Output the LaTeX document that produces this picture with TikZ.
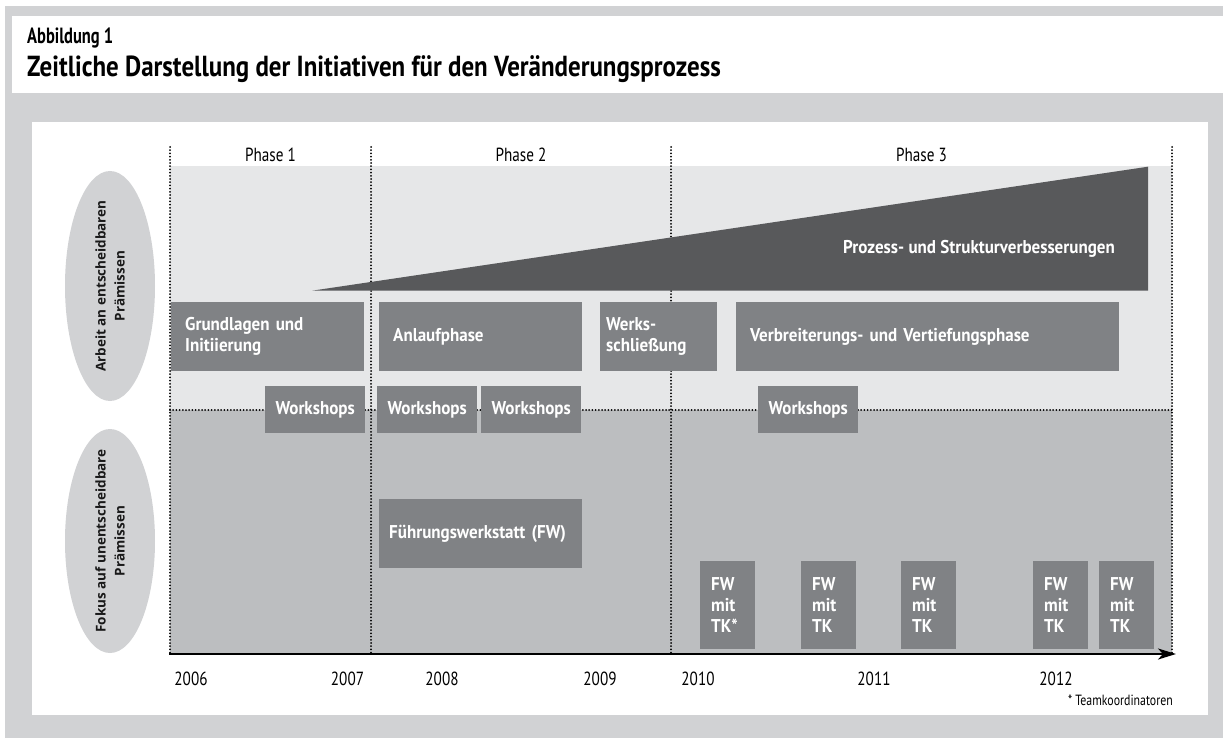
\documentclass[tikz,border=0pt]{standalone}
\usepackage{fontspec}
\setmainfont{PT Sans}[FakeStretch=0.8]
\newfontfamily\titlefont{PT Sans}[FakeStretch=0.86]
\newfontfamily\kopffont{PT Sans}[FakeStretch=0.75]
\newfontfamily\boxfont{PT Sans}[FakeStretch=0.92]
\newfontfamily\ellfont{Open Sans}
\usetikzlibrary{shapes.geometric,arrows.meta}
\definecolor{rahmengrau}{HTML}{D1D2D4}
\definecolor{hellband}{HTML}{E6E7E8}
\definecolor{dunkelband}{HTML}{BCBEC0}
\definecolor{boxgrau}{HTML}{808285}
\definecolor{keilgrau}{HTML}{58595B}
\tikzset{
  phasebox/.style={fill=boxgrau, text=white, anchor=north west, inner xsep=14pt, inner ysep=0pt,
    align=left, minimum height=69pt, font=\boxfont\bfseries\fontsize{18.5}{21}\selectfont},
  wsbox/.style={fill=boxgrau, text=white, anchor=north west, inner sep=0pt,
    minimum width=100pt, minimum height=47pt, font=\boxfont\bfseries\fontsize{18.5}{21}\selectfont},
  tkbox/.style={fill=boxgrau, text=white, anchor=north west, inner xsep=11pt, inner ysep=0pt,
    text width=33pt, align=left, minimum height=88pt, font=\boxfont\bfseries\fontsize{18.5}{21.3}\selectfont},
  premisse/.style={ellipse, fill=rahmengrau, inner sep=0pt, minimum width=90pt, minimum height=230pt},
  premissentext/.style={rotate=90, inner sep=0pt, align=center, text=black!90,
    font=\ellfont\bfseries\fontsize{13.5}{19}\selectfont},
  phaseline/.style={line width=2pt, line cap=round, dash pattern=on 0pt off 3.2pt},
  jahr/.style={font=\fontsize{19}{22}\selectfont},
}
\begin{document}
\begin{tikzpicture}[x=1pt, y=-1pt, >={Stealth[length=18pt,width=11pt,inset=5pt]}]
            \useasboundingbox (0,0) rectangle (1223,738);
            % Rahmen
            \fill[rahmengrau] (5,6) rectangle (1223,738);
            \fill[white] (12,16) rectangle (1223,93);
            \fill[white] (32,122) rectangle (1208,715);
            \node[anchor=base west, inner sep=0pt, font=\kopffont\bfseries\fontsize{22}{24}\selectfont] (abb) at (27,44) {Abbildung 1};
            \node[anchor=base west, inner sep=0pt, font=\titlefont\bfseries\fontsize{29}{32}\selectfont] (titel) at (27,77) {Zeitliche Darstellung der Initiativen für den Veränderungsprozess};
            % Baender
            \fill[hellband] (170,166) rectangle (1172,410);
            \fill[dunkelband] (170,410) rectangle (1172,654);
            \draw[phaseline] (170,410) -- (1172,410);
            \foreach \x in {170,371,671,1172} \draw[phaseline] (\x,147) -- (\x,654);
            \foreach \x/\n in {270.5/1,521/2,921.5/3} \node[jahr] (phase\n) at (\x,155) {Phase \n};
            % Keil
            \fill[keilgrau] (312,290.7) -- (1148,166.7) -- (1148,290.7) -- cycle;
            \node[anchor=east, text=white, inner sep=0pt, font=\boxfont\bfseries\fontsize{18.5}{21}\selectfont] (prozess) at (1115,249) {Prozess- und Strukturverbesserungen};
            % Phasen
            \node[phasebox, text width=165pt] (grund) at (171,302) {Grundlagen und\\Initiierung};
            \node[phasebox, text width=175pt] (anlauf) at (379,302) {Anlaufphase};
            \node[phasebox, text width=105pt, inner xsep=6pt] (werks) at (600,302) {Werks-\\schließung};
            \node[phasebox, text width=355pt] (verbr) at (736,302) {Verbreiterungs- und Vertiefungsphase};
            \foreach \x/\n in {265/1,377/2,481/3,758/4} \node[wsbox] (ws\n) at (\x,386) {Workshops};
            \node[phasebox, text width=183pt, inner xsep=10pt] (fw) at (379,499) {Führungswerkstatt (FW)};
            \node[tkbox] (tk1) at (700,561) {FW\\mit\\TK*};
            \foreach \x/\n in {801/2,901/3,1033/4,1099/5} \node[tkbox] (tk\n) at (\x,561) {FW\\mit\\TK};
            % Zeitachse
            \coordinate (achse0) at (169,654);
            \coordinate (achse1) at (1176,654);
            \draw[->, line width=2.2pt] (achse0) -- (achse1);
            \foreach \x/\j in {191/2006,347.5/2007,442/2008,600/2009,698/2010,874/2011,1056/2012} \node[jahr] (j\j) at (\x,679) {\j};
            \node[anchor=east, inner sep=0pt, font=\fontsize{14.8}{16}\selectfont] (tkfuss) at (1173,700) {* Teamkoordinatoren};
            % Praemissen
            \node[premisse] (oben) at (110,286) {};
            \node[premissentext] at (oben.center) {Arbeit an entscheidbaren\\Prämissen};
            \node[premisse, minimum height=224pt] (unten) at (110,541) {};
            \node[premissentext] at (unten.center) {Fokus auf unentscheidbare\\Prämissen};
    \end{tikzpicture}
\end{document}
